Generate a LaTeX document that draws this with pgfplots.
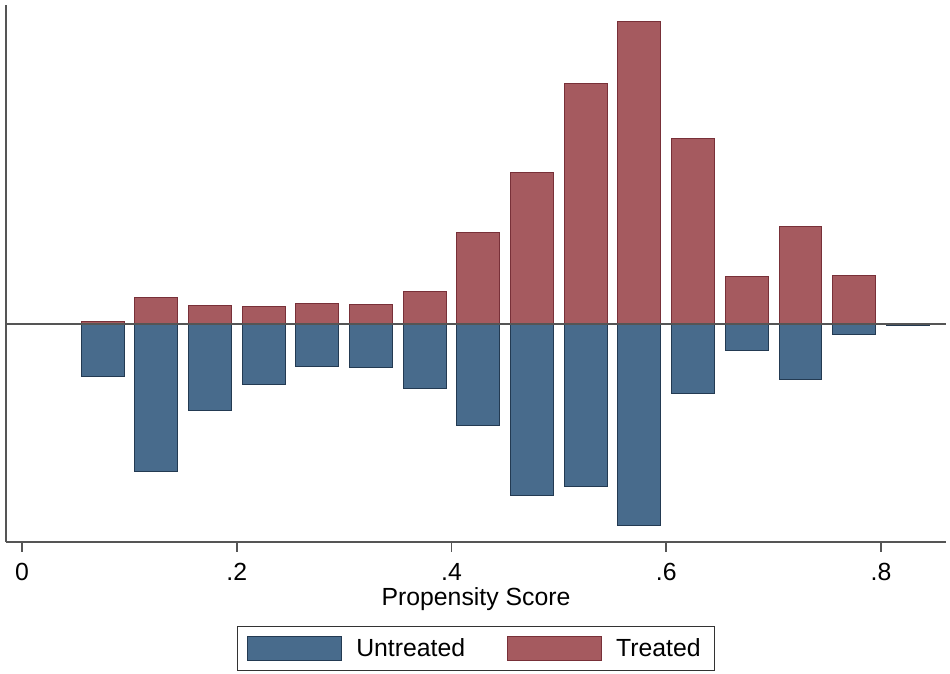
\documentclass[border=0pt]{standalone}
\usepackage{pgfplots}
\pgfplotsset{compat=1.18}
\usepackage{fontspec}
\setmainfont{Liberation Sans}
\definecolor{untr}{RGB}{72,107,140}
\definecolor{tr}{RGB}{165,90,95}
\definecolor{untrline}{RGB}{35,58,82}
\definecolor{trline}{RGB}{120,48,56}
\definecolor{axgray}{RGB}{85,85,85}
\begin{document}
\begin{tikzpicture}
\begin{axis}[
  scale only axis, width=470pt, height=268.5pt,
  xmin=-0.0149, xmax=0.8605, ymin=-2.18, ymax=3.19,
  axis x line*=bottom, axis y line*=left,
  axis line style={-, line width=1pt, color=axgray},
  ytick=\empty,
  xtick={0,0.2,0.4,0.6,0.8}, xticklabels={0,.2,.4,.6,.8},
  tick align=outside, major tick length=5pt,
  x tick style={line width=0.8pt, color=axgray},
  ticklabel style={font=\fontsize{12.4}{14}\selectfont},
  x tick label style={yshift=-2pt},
  xlabel={Propensity Score},
  xlabel style={font=\fontsize{12.4}{14}\selectfont, at={(axis description cs:0.5,-0.0708)}, anchor=north},
  legend columns=2,
  legend image code/.code={\draw[#1, line width=0.5pt] (0pt,-6pt) rectangle (47pt,6pt);},
  legend style={at={(0.5,-0.1564)}, anchor=north, draw=black!80, line width=0.6pt,
    inner xsep=4.75pt, inner ysep=3.75pt, font=\fontsize{12.4}{14}\selectfont,
    /tikz/every even column/.append style={column sep=19pt},
    /tikz/every odd column/.append style={column sep=5pt}},
]
\addplot[ybar, bar width=0.04, bar shift=0pt, fill=untr, draw=untrline, line width=0.5pt] coordinates {
 (0.075,-0.53) (0.125,-1.48) (0.175,-0.87) (0.225,-0.61) (0.275,-0.43) (0.325,-0.44)
 (0.375,-0.65) (0.425,-1.02) (0.475,-1.72) (0.525,-1.63) (0.575,-2.02) (0.625,-0.70)
 (0.675,-0.27) (0.725,-0.56) (0.775,-0.11) (0.825,-0.015)};
\addlegendentry{Untreated}
\addplot[ybar, bar width=0.04, bar shift=0pt, fill=tr, draw=trline, line width=0.5pt] coordinates {
 (0.075,0.02) (0.125,0.26) (0.175,0.18) (0.225,0.17) (0.275,0.20) (0.325,0.19)
 (0.375,0.32) (0.425,0.91) (0.475,1.51) (0.525,2.40) (0.575,3.02) (0.625,1.85)
 (0.675,0.47) (0.725,0.97) (0.775,0.48)};
\addlegendentry{Treated}
\addplot[color=axgray, line width=0.7pt, forget plot] coordinates {(-0.0149,0) (0.8605,0)};
\end{axis}
\pgfresetboundingbox
\path[use as bounding box] (-3pt,-66pt) rectangle (472pt,271pt);
\end{tikzpicture}
\end{document}
